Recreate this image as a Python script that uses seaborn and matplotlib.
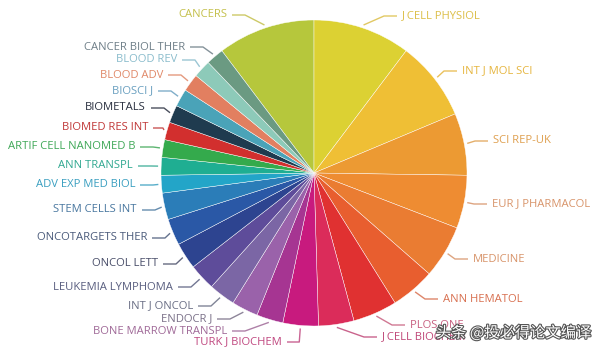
import numpy as np
import matplotlib
matplotlib.use("Agg")
import matplotlib.pyplot as plt
import matplotlib.patheffects as pe
import seaborn as sns

# ---------------- data ----------------
journals = ["CANCERS", "J CELL PHYSIOL", "INT J MOL SCI", "SCI REP-UK", "EUR J PHARMACOL",
            "MEDICINE", "ANN HEMATOL", "PLOS ONE", "J CELL BIOCHEM", "TURK J BIOCHEM",
            "BONE MARROW TRANSPL", "ENDOCR J", "INT J ONCOL", "LEUKEMIA LYMPHOMA", "ONCOL LETT",
            "ONCOTARGETS THER", "STEM CELLS INT", "ADV EXP MED BIOL", "ANN TRANSPL",
            "ARTIF CELL NANOMED B", "BIOMED RES INT", "BIOMETALS", "BIOSCI J", "BLOOD ADV",
            "BLOOD REV", "CANCER BIOL THER"]
counts = [11, 11, 9, 7, 6, 6, 5, 5, 4, 4, 3, 3, 3, 3, 3, 3, 3, 2, 2, 2, 2, 2, 2, 2, 2, 2]

slice_colors = ["#b6c73c", "#dcd133", "#efbf35", "#ec9a33", "#ee8c32", "#ea7c32", "#e85e2f",
                "#e03131", "#db2c5a", "#c81a7e", "#a63592", "#9a62aa", "#7b66a5", "#5e4c9a",
                "#2d4490", "#2a58a6", "#2b7db8", "#23a5c8", "#1fae92", "#34aa4c", "#d22f2e",
                "#1f3b4f", "#4aa3b8", "#e27f60", "#8dcab9", "#6b9a82"]
label_colors = ["#c4c04c", "#dcbf48", "#e6b640", "#dfa050", "#d8946a", "#d8946a", "#d87050",
                "#c86080", "#c04878", "#c04880", "#a06a98", "#7a7088", "#6a6f85", "#5a5f80",
                "#4a4f6a", "#4a5a7a", "#4a78a0", "#3a9fc0", "#30a890", "#40a858", "#c03838",
                "#2a3040", "#6aa0c0", "#e08868", "#8abccc", "#6f7f88"]

# ---------------- layout (pixels) ----------------
W, H = 600, 351
CX, CY, R = 314, 173, 153
label_pos = [(227, 15, "right"), (402, 16, "left"), (462, 71, "left"), (493, 141, "left"),
             (492, 204, "left"), (473, 259, "left"), (443, 299, "left"), (410, 325, "left"),
             (382, 337, "left"), (282, 342, "right"), (227, 331, "right"), (212, 319, "right"),
             (193, 306, "right"), (173, 287, "right"), (158, 264, "right"), (147, 238, "right"),
             (137, 210, "right"), (135, 185, "right"), (133, 166, "right"), (135, 147, "right"),
             (148, 128, "right"), (146, 108, "right"), (153, 91, "right"), (163, 75, "right"),
             (177, 60, "right"), (185, 47, "right")]


def px(x, y):
    return (x - CX) / R, (CY - y) / R


sns.set_theme(style="white")
plt.rcParams["font.family"] = ["Open Sans", "DejaVu Sans"]

fig = plt.figure(figsize=(W / 100, H / 100), dpi=100)
ax = fig.add_axes([0, 0, 1, 1])
start = 90 + counts[0] / sum(counts) * 360
wedges, _ = ax.pie(counts, colors=slice_colors, startangle=start, counterclock=False,
                   radius=1, center=(0, 0),
                   wedgeprops=dict(edgecolor="white", linewidth=0.3, alpha=1))
ax.set_aspect("auto")
ax.set_xlim(-CX / R, (W - CX) / R)
ax.set_ylim(-(H - CY) / R, CY / R)
ax.axis("off")

for w, name, lc, (lx, ly, ha) in zip(wedges, journals, label_colors, label_pos):
    ang = np.deg2rad((w.theta1 + w.theta2) / 2)
    ex = CX + R * 1.02 * np.cos(ang)
    ey = CY - R * 1.02 * np.sin(ang)
    sgn = 1 if ha == "left" else -1
    x0 = lx - sgn * 5
    xe = lx - sgn * 18
    if ha == "right" and xe > ex - 1:
        xe = ex - 1
    if ha == "left" and xe < ex + 1:
        xe = ex + 1
    pts = [px(x0, ly), px(xe, ly), px(ex, ey)]
    ax.plot([p[0] for p in pts], [p[1] for p in pts], color=lc, lw=1.0, alpha=0.85,
            solid_capstyle="butt")
    tx, ty = px(lx, ly)
    ax.text(tx, ty, name, color=lc, fontsize=8.1, ha=ha, va="center")

wx, wy = px(591, 333)
ax.text(wx, wy, "头条 @投必得论文编译", fontsize=11, color="white", ha="right", va="center",
        family=["Noto Sans CJK SC", "DejaVu Sans"],
        path_effects=[pe.withStroke(linewidth=1.6, foreground="#555555")])

fig.savefig("out.png", dpi=100, facecolor="white")
